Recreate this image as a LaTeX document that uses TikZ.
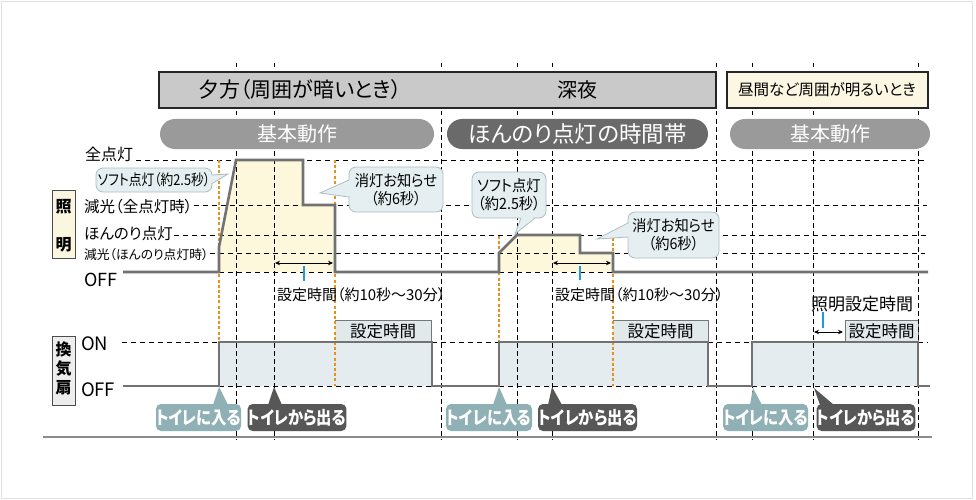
\documentclass[tikz,border=0pt]{standalone}
\usepackage{fontspec}
\setmainfont{Noto Sans CJK JP}[RawFeature=+palt]
\newfontfamily\cndA{Noto Sans CJK JP}[RawFeature=+palt, FakeStretch=0.85]
\newfontfamily\cndB{Noto Sans CJK JP}[RawFeature=+palt, FakeStretch=0.92]
\usetikzlibrary{arrows.meta}
\newcommand\fsz[1]{\fontsize{#1}{#1}\selectfont}
\definecolor{hdrgray}{HTML}{C9C9C9}
\definecolor{daycream}{HTML}{FCF7E3}
\definecolor{pillgray}{HTML}{9A9A9A}
\definecolor{pilldark}{HTML}{6A6A6A}
\definecolor{lightfill}{HTML}{FDF7DC}
\definecolor{fanfill}{HTML}{E4ECEF}
\definecolor{wavecol}{HTML}{727272}
\definecolor{orng}{HTML}{E8901C}
\definecolor{callfill}{HTML}{E5EFF1}
\definecolor{callline}{HTML}{A9BEC2}
\definecolor{tagincol}{HTML}{8FB0B5}
\definecolor{tagoutcol}{HTML}{575757}
\definecolor{tickblue}{HTML}{1C9CD8}
\definecolor{setfill}{HTML}{E2E9EB}
\definecolor{setline}{HTML}{777777}
\definecolor{vcream}{HTML}{FBF6E0}
\definecolor{vgray}{HTML}{EDEDED}
\begin{document}
\begin{tikzpicture}[x=1pt,y=-1pt,
  txt/.style={inner sep=0pt, outer sep=0pt, text=black},
  vdash/.style={black, line width=0.8pt, dash pattern=on 4.5pt off 3.5pt},
  hdash/.style={black, line width=0.8pt, dash pattern=on 5pt off 4pt},
  wave/.style={wavecol, line width=2.6pt, line join=miter},
  orangeline/.style={orng, line width=2pt, dash pattern=on 3pt off 2.2pt},
  hdrbox/.style={draw=black!85, line width=1.5pt, inner sep=0pt, outer sep=0pt},
  pill/.style={rounded corners=15pt, inner sep=0pt, outer sep=0pt, minimum height=30pt, text=white},
  callbox/.style={draw=callline, fill=callfill, line width=0.8pt, rounded corners=7pt, inner sep=0pt, outer sep=0pt, align=center, font=\cndB\fontsize{15.5}{18}\selectfont},
  tagbox/.style={rounded corners=5pt, inner sep=0pt, outer sep=0pt, minimum height=27pt, text=white, font=\cndA\fsz{18}\bfseries},
  vbox/.style={draw=black!70, line width=1pt, inner sep=0pt, outer sep=0pt, minimum width=23pt},
  setbox/.style={fill=setfill, inner sep=0pt, outer sep=0pt, minimum height=22pt, font=\fsz{16.5}},
  dblarrow/.style={{Stealth[length=5pt,width=4.5pt]}-{Stealth[length=5pt,width=4.5pt]}, line width=1pt, black},
  bluetick/.style={tickblue, line width=2pt}
]
\useasboundingbox (0,0) rectangle (976,500);
\fill[white] (0,0) rectangle (976,500);
\draw[black!12, line width=1pt] (1.5,1.5) rectangle (972.5,498.5);

% fills
\fill[lightfill] (219,272) -- (219,247) -- (236,160) -- (303,160) -- (303,205) -- (335,205) -- (335,272) -- cycle;
\fill[lightfill] (499,272) -- (499,253) -- (517,235) -- (580,235) -- (580,253) -- (613,253) -- (613,272) -- cycle;
\fill[fanfill] (219,342) rectangle (432,386);
\fill[fanfill] (499,342) rectangle (708,386);
\fill[fanfill] (752,342) rectangle (918,386);

% set-time boxes on fan
\node[setbox, minimum width=96pt] (setA) at (383,331) {設定時間};
\draw[setline, line width=1pt] (setA.north west) -- (setA.north east) -- (setA.south east);
\node[setbox, minimum width=95pt] (setB) at (660.5,331) {設定時間};
\draw[setline, line width=1pt] (setB.north west) -- (setB.north east) -- (setB.south east);
\node[setbox, minimum width=73pt, draw=setline, line width=1pt] (setC) at (881.5,331) {設定時間};

% vertical dashed grid
\foreach \x in {236,274,441,517,552,716,752,813,918}{
  \draw[vdash] (\x,63) -- (\x,440);
}

% headers
\node[hdrbox, fill=hdrgray, minimum width=557pt, minimum height=36pt] (hdrA) at (437.5,90) {};
\node[txt, font=\fsz{21}] (hdrAtxt) at (300,90) {夕方（周囲が暗いとき）};
\node[txt, font=\fsz{20}] (hdrBtxt) at (577,90) {深夜};
\node[hdrbox, fill=daycream, minimum width=201pt, minimum height=36pt] (hdrC) at (827.5,90) {};
\node[txt, font=\fsz{15.5}] (hdrCtxt) at (827,90) {昼間など周囲が明るいとき};

% pills
\node[pill, fill=pillgray, minimum width=274pt, font=\fsz{20}] (pillA) at (297,134) {基本動作};
\node[pill, fill=pilldark, minimum width=261pt, font=\fsz{22.5}] (pillB) at (577.5,134) {ほんのり点灯の時間帯};
\node[pill, fill=pillgray, minimum width=200pt, font=\fsz{20}] (pillC) at (830,134) {基本動作};

% vertical labels
\node[vbox, fill=vcream, minimum height=68pt] (boxLight) at (63.5,224) {};
\node[txt, font=\fsz{16}\bfseries] (lt1) at (63.5,207) {照};
\node[txt, font=\fsz{16}\bfseries] (lt2) at (63.5,245) {明};
\node[vbox, fill=vgray, minimum height=69pt] (boxFan) at (63.5,370.5) {};
\node[txt, font=\fsz{16}\bfseries] (ft1) at (63.5,349.5) {換};
\node[txt, font=\fsz{16}\bfseries] (ft2) at (63.5,368.5) {気};
\node[txt, font=\fsz{16}\bfseries] (ft3) at (63.5,388) {扇};

% level labels
\node[txt, anchor=west, font=\fsz{16}] (lvFull) at (85,154) {全点灯};
\node[txt, anchor=west, font=\fsz{15.5}] (lvDim) at (84,207) {減光（全点灯時）};
\node[txt, anchor=west, font=\fsz{15.5}] (lvSoft) at (84,234) {ほんのり点灯};
\node[txt, anchor=west, font=\fsz{12.8}] (lvDim2) at (84,255) {減光（ほんのり点灯時）};
\node[txt, anchor=west, font=\fsz{18}] (lvOff) at (84,280) {OFF};
\node[txt, anchor=west, font=\fsz{18.5}] (fanOn) at (81,344) {ON};
\node[txt, anchor=west, font=\fsz{18.5}] (fanOff) at (81,390) {OFF};

% horizontal dashed levels
\draw[hdash] ([xshift=3pt]lvFull.east |- 0,160) -- (925,160);
\draw[hdash] ([xshift=1pt]lvDim.east |- 0,205) -- (927,205);
\draw[hdash] ([xshift=1pt]lvSoft.east |- 0,235) -- (927,235);
\draw[hdash] ([xshift=1pt]lvDim2.east |- 0,253) -- (925,253);
\draw[hdash] (219,272) -- (335,272);
\draw[hdash] (499,272) -- (613,272);
\draw[hdash] (122,342) -- (219,342);
\draw[hdash] (432,342) -- (499,342);
\draw[hdash] (708,342) -- (752,342);
\draw[hdash] (918,342) -- (928,342);
\draw[hdash] (219,386) -- (432,386);
\draw[hdash] (499,386) -- (708,386);
\draw[hdash] (752,386) -- (918,386);

% orange timing lines
\draw[orangeline] (219,160) -- (219,342);
\draw[orangeline] (335,160) -- (335,386);
\draw[orangeline] (499,236) -- (499,342);
\draw[orangeline] (613,238) -- (613,386);

% waveforms
\draw[wave] (123,272) -- (219,272) -- (219,247) -- (236,160) -- (303,160) -- (303,205) -- (335,205) -- (335,272) -- (499,272) -- (499,253) -- (517,235) -- (580,235) -- (580,253) -- (613,253) -- (613,272) -- (928,272);
\draw[wave] (123,386) -- (219,386) -- (219,342) -- (432,342) -- (432,386) -- (499,386) -- (499,342) -- (708,342) -- (708,386) -- (752,386) -- (752,342) -- (918,342) -- (918,386) -- (930,386);

% set-time arrows and ticks
\coordinate (arA1) at (275,263); \coordinate (arA2) at (333,263);
\draw[dblarrow] (arA1) -- (arA2);
\draw[bluetick] (304,266) -- (304,281);
\node[txt, anchor=west, font=\fsz{15}] (stA) at (277,295) {設定時間（約10秒～30分）};
\coordinate (arB1) at (553,263); \coordinate (arB2) at (611,263);
\draw[dblarrow] (arB1) -- (arB2);
\draw[bluetick] (580,266) -- (580,280);
\node[txt, anchor=west, font=\fsz{15}] (stB) at (555,295) {設定時間（約10秒～30分）};
\node[txt, anchor=west, font=\fsz{17}] (stC) at (811,304) {照明設定時間};
\coordinate (arC1) at (814,332); \coordinate (arC2) at (843,332);
\draw[dblarrow] (arC1) -- (arC2);
\draw[bluetick] (823,312) -- (823,328);

% callouts
\node[callbox, minimum width=116pt, minimum height=24pt, font=\cndA\fsz{15}] (cSoftA) at (154,180) {ソフト点灯（約2.5秒）};
\coordinate (tipSoftA) at (228,174);
\fill[callfill] (210.5,175) -- (tipSoftA) -- (210.5,183.5) -- cycle;
\draw[callline, line width=0.8pt] (212,175) -- (tipSoftA) -- (212,183.5);

\node[callbox, minimum width=94pt, minimum height=45pt] (cOffA) at (396,189.5) {消灯お知らせ\\（約6秒）};
\coordinate (tipOffA) at (320,193);
\fill[callfill] (350.5,180) -- (tipOffA) -- (350.5,197) -- cycle;
\draw[callline, line width=0.8pt] (349,180) -- (tipOffA) -- (349,197);

\node[callbox, minimum width=74pt, minimum height=46pt] (cSoftB) at (509,195) {ソフト点灯\\（約2.5秒）};
\coordinate (tipSoftB) at (515,234);
\fill[callfill] (521,216.5) -- (tipSoftB) -- (535,216.5) -- cycle;
\draw[callline, line width=0.8pt] (521,218) -- (tipSoftB) -- (535,218);

\node[callbox, minimum width=91pt, minimum height=46pt] (cOffB) at (673.5,235) {消灯お知らせ\\（約6秒）};
\coordinate (tipOffB) at (597,239);
\fill[callfill] (629.5,223) -- (tipOffB) -- (629.5,237) -- cycle;
\draw[callline, line width=0.8pt] (628,223) -- (tipOffB) -- (628,237);

% tags
\node[tagbox, fill=tagincol, minimum width=85pt] (inA) at (198.5,417.5) {トイレに入る};
\fill[tagincol] (213,405) -- (219,387) -- (228,405) -- cycle;
\node[tagbox, fill=tagoutcol, minimum width=98pt] (outA) at (297,417.5) {トイレから出る};
\fill[tagoutcol] (268,405) -- (274,387) -- (282,405) -- cycle;
\node[tagbox, fill=tagincol, minimum width=86pt] (inB) at (489,417.5) {トイレに入る};
\fill[tagincol] (493,405) -- (499,387) -- (507,405) -- cycle;
\node[tagbox, fill=tagoutcol, minimum width=99pt] (outB) at (587.5,417.5) {トイレから出る};
\fill[tagoutcol] (548,405) -- (552,387) -- (562,405) -- cycle;
\node[tagbox, fill=tagincol, minimum width=85pt] (inC) at (765.5,417.5) {トイレに入る};
\fill[tagincol] (750,405) -- (753,388) -- (762,405) -- cycle;
\node[tagbox, fill=tagoutcol, minimum width=98pt] (outC) at (866,417.5) {トイレから出る};
\fill[tagoutcol] (820,405) -- (814,388) -- (834,405) -- cycle;

% bottom base line
\draw[black!45, line width=1.5pt] (43,437) -- (932,437);
\end{tikzpicture}
\end{document}
